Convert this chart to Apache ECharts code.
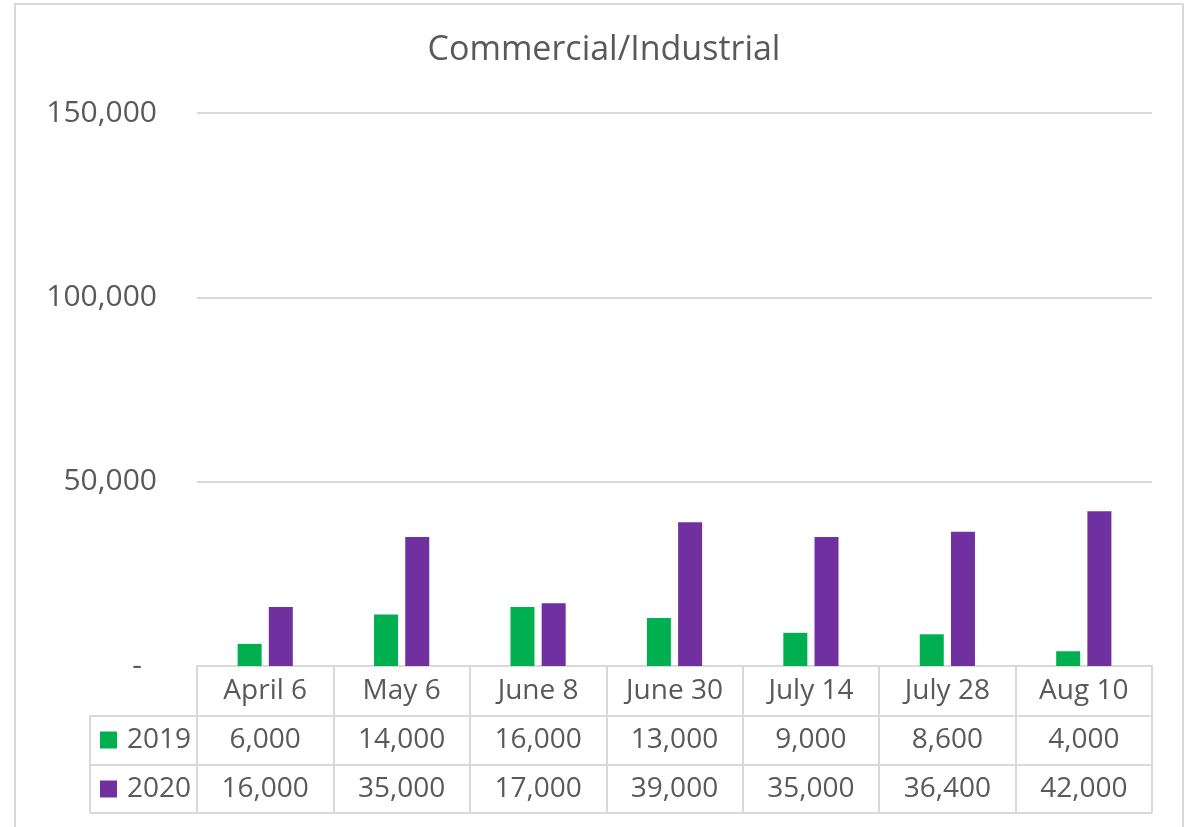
<!DOCTYPE html>
<html><head><meta charset="utf-8">
<script src="https://cdn.jsdelivr.net/npm/echarts/dist/echarts.min.js"></script>
<style>html,body{margin:0;padding:0;background:#fff}#c{width:1191px;height:827px}</style>
</head><body><div id="c"></div>
<script>
const chartTitle = 'Commercial/Industrial';
const categories = ['April 6','May 6','June 8','June 30','July 14','July 28','Aug 10'];
const seriesNames = ['2019','2020'];
const values2019 = [6000,14000,16000,13000,9000,8600,4000];
const values2020 = [16000,35000,17000,39000,35000,36400,42000];
const yMin = 0, yMax = 150000, yStep = 50000;

const TXT = '#595959', LINE = '#d9d9d9', FONT = '"Open Sans", sans-serif', FS = 28;
const colors = ['#00B050', '#7030A0'];
const fmt = v => v.toLocaleString('en-US');

const chart = echarts.init(document.getElementById('c'), null, {renderer: 'canvas'});
const rowLabel = (offset, data) => ({
  type: 'category', data: data, position: 'bottom', offset: offset, gridIndex: 0,
  axisLine: {show: false}, axisTick: {show: false},
  axisLabel: {interval: 0, fontSize: FS, fontFamily: FONT, color: TXT, margin: 25, verticalAlign: 'middle', lineHeight: 30}
});
chart.setOption({
  animation: false,
  backgroundColor: '#fff',
  title: {text: chartTitle, left: 599, top: 28, textAlign: 'center',
    textStyle: {fontSize: 34, fontWeight: 'normal', fontFamily: FONT, color: TXT}},
  grid: {left: 197, right: 39, top: 113, bottom: 161, containLabel: false},
  legend: {data: seriesNames, orient: 'vertical', left: 100, top: 725, padding: 0, itemWidth: 17, itemHeight: 17,
    itemGap: 19, icon: 'rect', selectedMode: false,
    textStyle: {fontSize: FS, fontFamily: FONT, color: TXT, lineHeight: 30, padding: [0, 0, 0, 5]}},
  xAxis: [
    {type: 'category', data: categories, boundaryGap: true,
      axisLine: {show: true, lineStyle: {color: LINE, width: 2}},
      axisTick: {show: true, length: 147, lineStyle: {color: LINE, width: 2}},
      axisLabel: {interval: 0, fontSize: FS, fontFamily: FONT, color: TXT, margin: 25, verticalAlign: 'middle', lineHeight: 30}},
    rowLabel(49, values2019.map(fmt)),
    rowLabel(98, values2020.map(fmt))
  ],
  yAxis: {type: 'value', min: yMin, max: yMax, interval: yStep,
    axisLine: {show: false}, axisTick: {show: false},
    splitLine: {lineStyle: {color: LINE, width: 2}},
    axisLabel: {margin: 40, fontSize: 30, fontFamily: FONT, color: TXT,
      formatter: v => v === 0 ? '{z|-}' : fmt(v),
      rich: {z: {fontSize: 30, fontFamily: FONT, color: TXT, padding: [0, 15, 0, 0]}}}},
  series: [
    {name: seriesNames[0], type: 'bar', data: values2019, barWidth: 24, barGap: '30%', itemStyle: {color: colors[0]}},
    {name: seriesNames[1], type: 'bar', data: values2020, barWidth: 24, barGap: '30%', itemStyle: {color: colors[1]}}
  ],
  graphic: [
    {type: 'rect', shape: {x: 15, y: 4, width: 1168, height: 900}, style: {fill: 'none', stroke: LINE, lineWidth: 2}, silent: true},
    {type: 'line', shape: {x1: 90, y1: 716, x2: 1152, y2: 716}, style: {stroke: LINE, lineWidth: 2}, silent: true},
    {type: 'line', shape: {x1: 90, y1: 765, x2: 1152, y2: 765}, style: {stroke: LINE, lineWidth: 2}, silent: true},
    {type: 'line', shape: {x1: 90, y1: 813, x2: 1152, y2: 813}, style: {stroke: LINE, lineWidth: 2}, silent: true},
    {type: 'line', shape: {x1: 90, y1: 716, x2: 90, y2: 813}, style: {stroke: LINE, lineWidth: 2}, silent: true}
  ]
});
</script></body></html>
